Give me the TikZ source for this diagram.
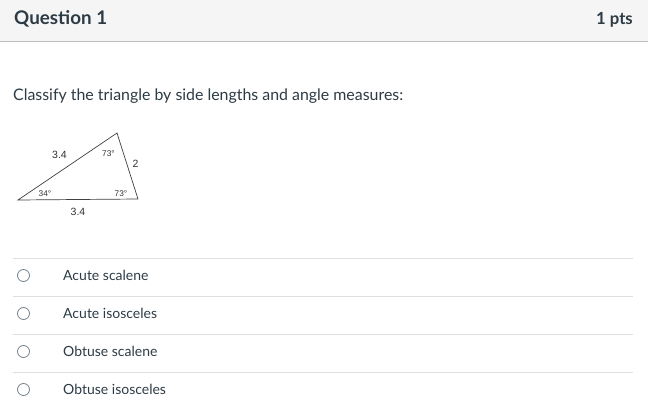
\documentclass[tikz,border=0pt]{standalone}
\usepackage{fontspec}
\setmainfont{Lato}
\newfontfamily\arialf{Liberation Sans}
\definecolor{txt}{HTML}{2D3B45}
\definecolor{hdrbg}{HTML}{F5F5F5}
\definecolor{hdrline}{HTML}{B8BEC2}
\definecolor{sepline}{HTML}{DDE0E2}
\definecolor{radio}{HTML}{73818C}
\begin{document}
\begin{tikzpicture}[x=1pt,y=-1pt,
  hdr/.style={font=\fontsize{18.8}{22}\selectfont\bfseries, text=txt, inner sep=0pt},
  opt/.style={font=\fontsize{14}{16}\selectfont, text=txt, anchor=west, inner sep=0pt},
  rad/.style={circle, draw=radio, line width=0.8pt, minimum size=12pt, inner sep=0pt},
  tri/.style={font=\arialf\fontsize{10.5}{12}\selectfont, text=black!80, inner sep=0pt},
  ang/.style={font=\arialf\fontsize{8.3}{9}\selectfont, text=black!80, inner sep=0pt}]
\useasboundingbox (0,0) rectangle (648,420);
\fill[white] (0,0) rectangle (648,420);
\fill[hdrbg] (0,0) rectangle (648,42);
\draw[hdrline, line width=1pt] (0,42) -- (648,42);
\node[hdr, anchor=west] (q) at (14,19) {Question 1};
\node[hdr, anchor=east, font=\fontsize{16.7}{19}\selectfont\bfseries] (pts) at (633,20) {1 pts};
\node[opt, font=\fontsize{15.9}{18}\selectfont] (cls) at (13,96) {Classify the triangle by side lengths and angle measures:};
% triangle
\coordinate (A) at (18,200);
\coordinate (B) at (117,133);
\coordinate (C) at (138,199);
\draw[black!75, line width=0.7pt] (A) -- (B) -- (C) -- cycle;
\node[tri] (s1) at (59.5,155) {3.4};
\node[tri] (s2) at (135.5,163.5) {2};
\node[tri] (s3) at (78,211.5) {3.4};
\node[ang] (a1) at (108.5,153.5) {73°};
\node[ang] (a2) at (45,194) {34°};
\node[ang] (a3) at (121,193.5) {73°};
% options
\foreach \yy in {258,296,334,372} \draw[sepline, line width=0.8pt] (13,\yy) -- (633,\yy);
\node[rad] (r1) at (23.5,275.5) {};
\node[rad] (r2) at (23.5,313.5) {};
\node[rad] (r3) at (23.5,351.5) {};
\node[rad] (r4) at (23.5,389.5) {};
\node[opt] (o1) at (63,275) {Acute scalene};
\node[opt] (o2) at (63,313) {Acute isosceles};
\node[opt] (o3) at (63,351) {Obtuse scalene};
\node[opt] (o4) at (63,389) {Obtuse isosceles};
\end{tikzpicture}
\end{document}
